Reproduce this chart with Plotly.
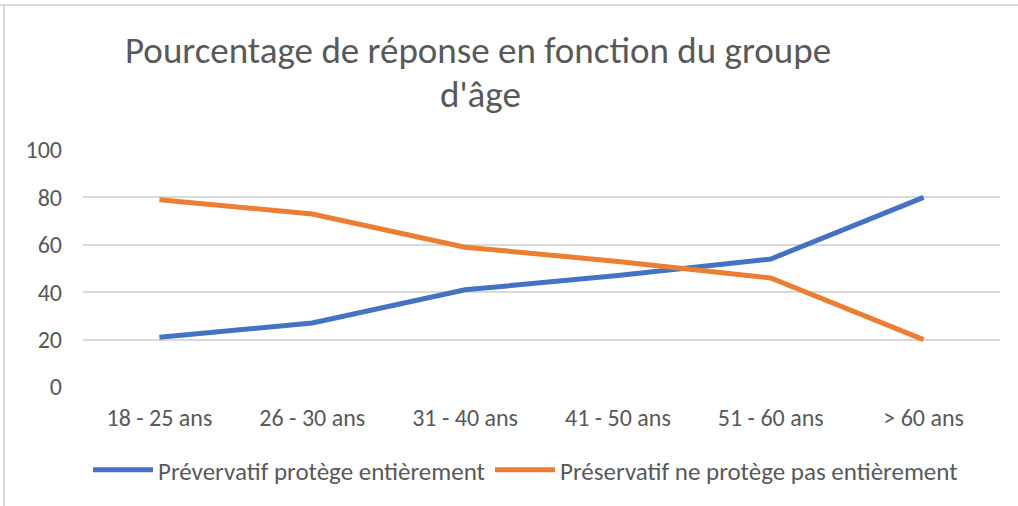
import plotly.graph_objects as go

categories = ["18 - 25 ans", "26 - 30 ans", "31 - 40 ans", "41 - 50 ans", "51 - 60 ans", "> 60 ans"]
protege = [21, 27, 41, 47, 54, 80]
ne_protege_pas = [79, 73, 59, 53, 46, 20]
y_ticks = [0, 20, 40, 60, 80, 100]

FONT = "Carlito, 'Liberation Sans Narrow', 'Open Sans', sans-serif"
GRAY = "#595959"

fig = go.Figure()
fig.add_trace(go.Scatter(x=categories, y=protege, mode="lines",
                         name="Prévervatif protège entièrement",
                         line=dict(color="#4472C4", width=5)))
fig.add_trace(go.Scatter(x=categories, y=ne_protege_pas, mode="lines",
                         name="Préservatif ne protège pas entièrement",
                         line=dict(color="#ED7D31", width=5)))

fig.update_layout(
    width=1018, height=506,
    margin=dict(l=83, r=18, t=150, b=119, autoexpand=False),
    paper_bgcolor="white", plot_bgcolor="white",
    font=dict(family=FONT, size=24, color=GRAY),
    showlegend=True,
    legend=dict(orientation="h", x=5 / 917, xanchor="left", y=-83 / 237, yanchor="middle",
                font=dict(size=25, color=GRAY), itemwidth=60, tracegroupgap=0),
    xaxis=dict(type="category", range=[-0.5, 5.5], showgrid=False, showline=False,
               ticks="", tickfont=dict(size=24, color=GRAY), ticklabelstandoff=14,
               automargin=False),
    yaxis=dict(range=[0, 100], tickvals=y_ticks, showgrid=True, gridcolor="#D9D9D9",
               gridwidth=1.5, zeroline=False, showline=False, ticks="",
               tickfont=dict(size=24, color=GRAY), ticklabelstandoff=20,
               automargin=False),
)

fig.add_annotation(text="Pourcentage de réponse en fonction du groupe", xref="paper", yref="paper",
                   x=(478 - 83) / 917, y=1 + (150 - 50) / 237, xanchor="center", yanchor="middle",
                   showarrow=False, font=dict(size=37, color=GRAY, family=FONT))
fig.add_annotation(text="d'âge", xref="paper", yref="paper",
                   x=(480 - 83) / 917, y=1 + (150 - 95) / 237, xanchor="center", yanchor="middle",
                   showarrow=False, font=dict(size=37, color=GRAY, family=FONT))

# chart frame (top and left edges visible)
fig.add_shape(type="line", xref="paper", yref="paper",
              x0=-83 / 917, x1=1 + 18 / 917, y0=1 + 145 / 237, y1=1 + 145 / 237,
              line=dict(color="#D9D9D9", width=2))
fig.add_shape(type="line", xref="paper", yref="paper",
              x0=-79 / 917, x1=-79 / 917, y0=-119 / 237, y1=1 + 145 / 237,
              line=dict(color="#D9D9D9", width=2))

fig.write_html("out.html", config={"displayModeBar": False},
               post_script="document.body.style.margin='0';")
